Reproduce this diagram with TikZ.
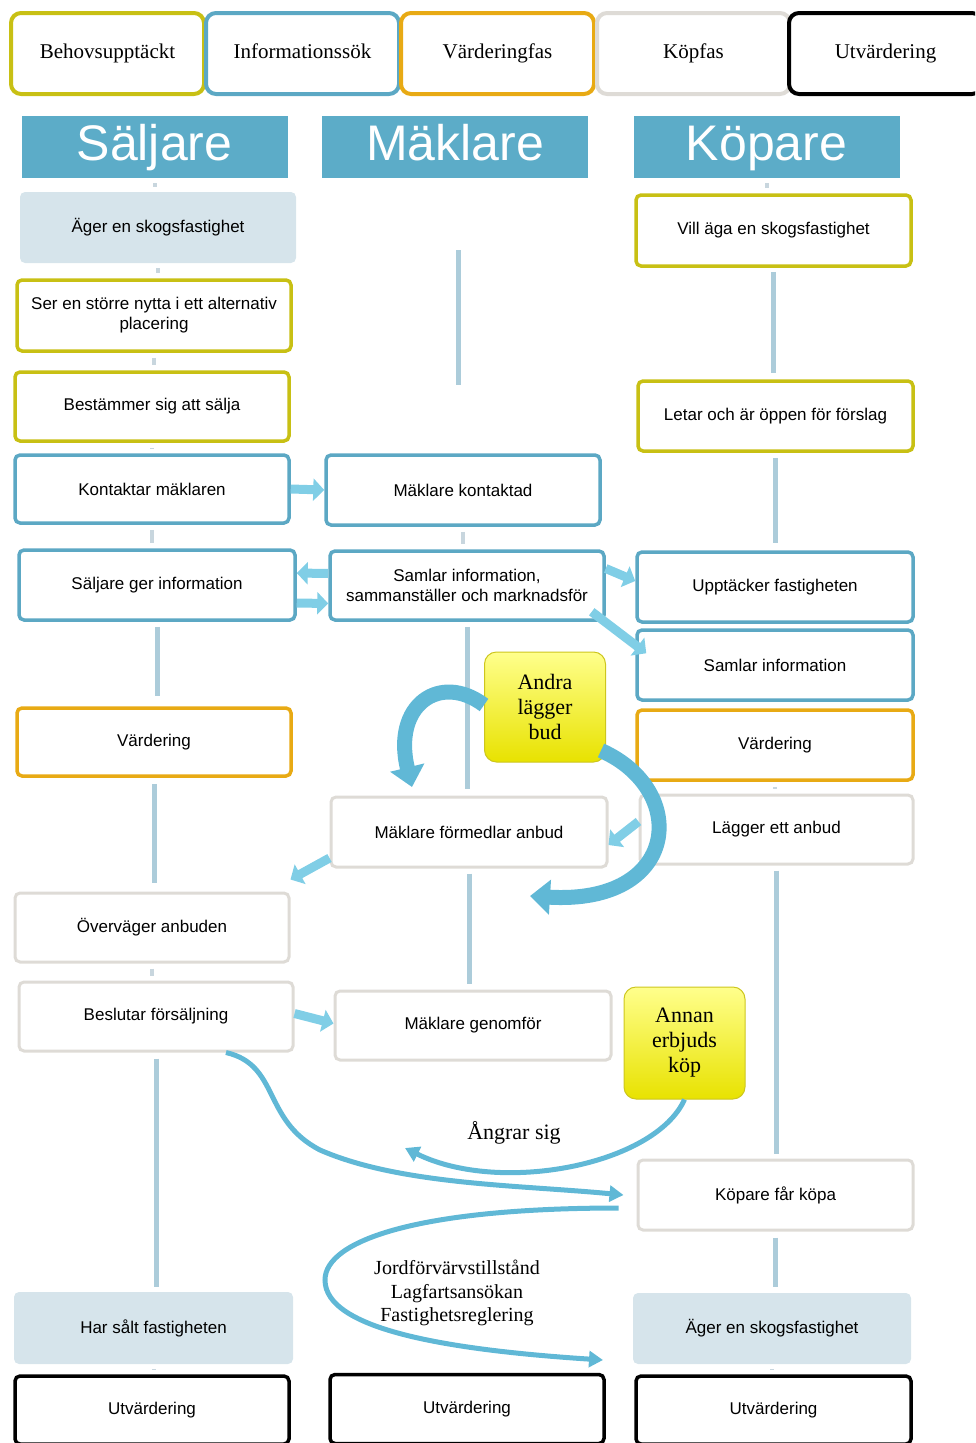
\documentclass[tikz,border=0pt]{standalone}
\usepackage{fontspec}
\setmainfont{Liberation Serif}
\setsansfont{Liberation Sans}
\usetikzlibrary{arrows.meta}

\definecolor{needcol}{RGB}{200,192,20}
\definecolor{infocol}{RGB}{92,168,196}
\definecolor{valcol}{RGB}{232,170,20}
\definecolor{buycol}{RGB}{222,219,214}
\definecolor{lanecol}{RGB}{92,172,200}
\definecolor{ownfill}{RGB}{214,228,235}
\definecolor{flowcol}{RGB}{172,204,218}
\definecolor{stubcol}{RGB}{200,214,222}
\definecolor{blockcol}{RGB}{128,206,230}
\definecolor{curvecol}{RGB}{96,184,214}
\definecolor{bidtop}{RGB}{255,255,140}
\definecolor{bidbot}{RGB}{232,226,0}
\definecolor{bidedge}{RGB}{205,198,30}

\tikzset{
  box/.style={rounded corners=5pt, minimum width=274pt, minimum height=69pt,
    align=center, fill=white, font=\fontsize{17}{20}\selectfont\sffamily},
  need/.style={box, draw=needcol, line width=3.5pt},
  info/.style={box, draw=infocol, line width=3.5pt},
  valuebox/.style={box, draw=valcol, line width=3.5pt},
  offer/.style={box, draw=buycol, line width=3pt},
  evalbox/.style={box, draw=black, line width=3.5pt},
  owned/.style={box, fill=ownfill, draw=none},
  phasebox/.style={rounded corners=10pt, minimum width=193pt, minimum height=81pt,
    line width=4pt, fill=white, text height=15pt, text depth=5pt,
    font=\fontsize{21}{24}\selectfont},
  lane/.style={fill=lanecol, minimum width=266pt, minimum height=62pt,
    text height=37pt, text depth=11pt, inner ysep=1pt,
    text=white, font=\fontsize{50}{50}\selectfont\sffamily},
  bid/.style={rounded corners=12pt, top color=bidtop, bottom color=bidbot,
    draw=bidedge, line width=1pt, minimum width=121pt, minimum height=110pt,
    align=center, font=\fontsize{22}{25}\selectfont},
  flow/.style={draw=flowcol, line width=5pt},
  stub/.style={draw=stubcol, line width=4pt},
  block/.style={draw=blockcol, line width=9pt,
    -{Triangle[width=22pt,length=11pt]}},
  swoop/.style={draw=curvecol, line width=15pt,
    -{Triangle[width=34pt,length=20pt]}},
  thread/.style={draw=curvecol, line width=5pt,
    -{Triangle[width=16pt,length=14pt]}},
  remark/.style={font=\fontsize{22}{25}\selectfont, align=center}
}

\begin{document}
\begin{tikzpicture}[x=1pt,y=-1pt]
\useasboundingbox (0,0) rectangle (975,1443);
\clip (0,0) rectangle (975,1443);

\foreach \n/\x/\c/\t in {behov/107.5/needcol/Behovsupptäckt,
    infosok/302.5/infocol/Informationssök, vardfas/497.5/valcol/Värderingfas,
    kopfas/693.5/buycol/Köpfas, utvfas/885.5/black/Utvärdering}
  \node[phasebox, draw=\c] (\n) at (\x,53.5) {\t};

\foreach \n/\x/\t in {salj/154.5/Säljare, makl/455/Mäklare, kop/766.5/Köpare}
  \node[lane] (\n) at (\x,147) {\t};

\node[owned, minimum width=276pt, minimum height=71pt] (sAger) at (158,227.5) {Äger en skogsfastighet};
\node[need, minimum height=71pt] (sSer) at (154,315.5) {Ser en större nytta i ett alternativ\\placering};
\node[need] (sBest) at (152,406.5) {Bestämmer sig att sälja};
\node[info, minimum height=68pt] (sKont) at (152,489) {Kontaktar mäklaren};
\node[info, minimum width=276pt, minimum height=70pt] (sGer) at (157,585) {Säljare ger information};
\node[valuebox, minimum height=68pt] (sVard) at (154,742) {Värdering};
\node[offer] (sOver) at (152,927.5) {Överväger anbuden};
\node[offer] (sBesl) at (156,1016.5) {Beslutar försäljning};
\node[owned, minimum width=279pt, minimum height=72pt] (sHar) at (153.5,1328) {Har sålt fastigheten};
\node[evalbox, minimum height=68pt] (sUtv) at (152,1410) {Utvärdering};

\node[info, minimum height=70pt] (mKont) at (463,490) {Mäklare kontaktad};
\node[info] (mSaml) at (467,585.5) {Samlar information,\\sammanställer och marknadsför};
\node[offer, minimum width=276pt, minimum height=70pt] (mForm) at (469,832) {Mäklare förmedlar anbud};
\node[offer, minimum width=276pt] (mGen) at (473,1025.5) {Mäklare genomför};
\node[evalbox] (mUtv) at (467,1409) {Utvärdering};

\node[need, minimum width=275pt, minimum height=71pt] (kVill) at (773.5,230.5) {Vill äga en skogsfastighet};
\node[need, minimum width=275pt, minimum height=70pt] (kLet) at (775.5,416) {Letar och är öppen för förslag};
\node[info, minimum width=276pt, minimum height=70pt] (kUpp) at (775,587) {Upptäcker fastigheten};
\node[info, minimum width=276pt, minimum height=70pt] (kSaml) at (775,665) {Samlar information};
\node[valuebox, minimum width=276pt, minimum height=70pt] (kVard) at (775,745) {Värdering};
\node[offer, minimum width=273pt] (kLagg) at (776.5,829.5) {Lägger ett anbud};
\node[offer, minimum width=275pt, minimum height=70pt] (kKopa) at (775.5,1195) {Köpare får köpa};
\node[owned, minimum width=278pt, minimum height=71pt] (kAger) at (772,1328.5) {Äger en skogsfastighet};
\node[evalbox, minimum width=275pt, minimum height=68pt] (kUtv) at (773.5,1410) {Utvärdering};

\coordinate (mTop) at (458,250);
\coordinate (mBot) at (458,385);
\draw[flow] (mTop) -- (mBot);
\draw[flow, shorten <=5pt, shorten >=10pt] (sGer.south) -- (sGer.south |- sVard.north);
\draw[flow, shorten <=6pt, shorten >=9pt] (sVard.south) -- (sVard.south |- sOver.north);
\draw[flow, shorten <=6pt, shorten >=5pt] (sBesl.south) -- (sBesl.south |- sHar.north);
\draw[flow, shorten <=5pt, shorten >=7pt] (mSaml.south) -- (mSaml.south |- mForm.north);
\draw[flow, shorten <=5pt, shorten >=6pt] (mForm.south) -- (mForm.south |- mGen.north);
\draw[flow, shorten <=4pt, shorten >=6pt] (kVill.south) -- (kVill.south |- kLet.north);
\draw[flow, shorten <=5pt, shorten >=7pt] (kLet.south) -- (kLet.south |- kUpp.north);
\draw[flow, shorten <=5pt, shorten >=5pt] (kLagg.south) -- (kLagg.south |- kKopa.north);
\draw[flow, shorten <=6pt, shorten >=6pt] (kKopa.south) -- (kKopa.south |- kAger.north);

\foreach \a/\b in {salj/sAger, sAger/sSer, sSer/sBest, sBest/sKont, sKont/sGer,
    sOver/sBesl, sHar/sUtv, mKont/mSaml, kop/kVill, kVard/kLagg, kAger/kUtv}
  \draw[stub, shorten <=5pt, shorten >=5pt] (\a.south) -- (\a.south |- \b.north);

\node[bid] (mAndra) at (545,707) {Andra\\lägger\\bud};
\node[bid, minimum height=112pt] (mAnnan) at (684.5,1043) {Annan\\erbjuds\\köp};

\draw[block] (sKont.east) -- (mKont.west);
\draw[block] ([yshift=12pt]mSaml.west) -- ([yshift=12pt]sGer.east);
\draw[block] ([yshift=-18pt]sGer.east) -- ([yshift=-18pt]mSaml.west);
\draw[block] ([yshift=17pt]mSaml.east) -- ([yshift=6pt]kUpp.west);
\draw[block] ([xshift=-14pt,yshift=10pt]mSaml.south east) -- ([xshift=11pt,yshift=-25pt]kSaml.north west);
\draw[block] ([yshift=-26pt]mForm.west) -- ([yshift=12pt]sOver.north east);
\draw[block] ([yshift=8pt]kLagg.west) -- ([yshift=-13pt]mForm.east);
\draw[block] ([yshift=3pt]sBesl.east) -- ([yshift=2pt]mGen.west);

\coordinate (bidLeft) at (412,787);
\coordinate (bidRight) at (530,896);
\draw[swoop] ([yshift=2pt]mAndra.west) .. controls (440,672) and (392,705) .. (bidLeft);
\draw[swoop] ([xshift=-5pt,yshift=12pt]mAndra.south east) .. controls (690,790) and (680,905) .. (bidRight);

\coordinate (regret) at (405,1148);
\draw[thread] (mAnnan.south) .. controls (655,1165) and (500,1195) .. (regret);
\node[remark] (angrar) at (514,1133) {Ångrar sig};

\draw[thread] ([xshift=70pt]sBesl.south) .. controls (280,1065) and (262,1120) .. (320,1150)
  .. controls (400,1185) and (520,1185) .. ([xshift=-13pt]kKopa.west);

\coordinate (deed) at (603,1360);
\draw[thread] ([xshift=-18pt,yshift=-13pt]kKopa.west) .. controls (420,1208) and (325,1240) .. (325,1280)
  .. controls (325,1330) and (450,1350) .. (deed);
\node[remark, font=\fontsize{20}{23.5}\selectfont] (papers) at (457,1293)
  {Jordförvärvstillstånd\\Lagfartsansökan\\Fastighetsreglering};
\end{tikzpicture}
\end{document}
